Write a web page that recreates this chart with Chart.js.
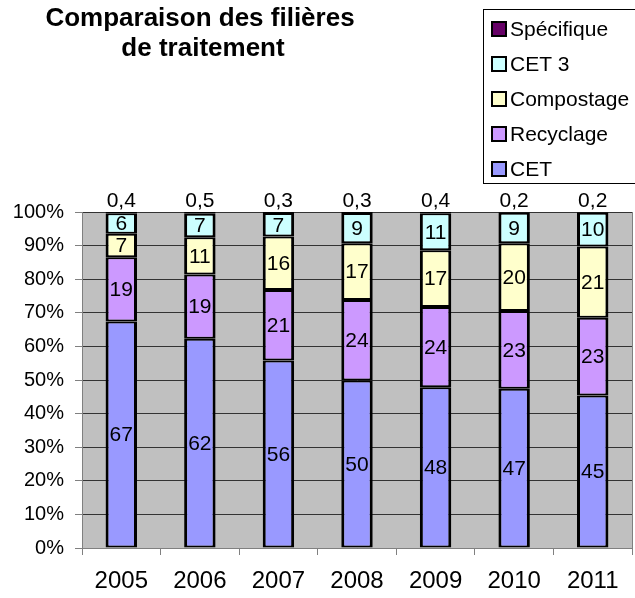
<!DOCTYPE html>
<html>
<head>
    <meta charset="utf-8">
    <title>Comparaison des filières de traitement</title>
    <script src="https://cdn.jsdelivr.net/npm/chart.js"></script>
    <style>
        body {
            margin: 0;
            background: #fff;
        }
        #wrap {
            position: relative;
            width: 635px;
            height: 598px;
        }
    </style>
</head>
<body>
    <div id="wrap"><canvas id="chart"></canvas></div>

    <script>
        // Data (values in %)
        const years = ['2005', '2006', '2007', '2008', '2009', '2010', '2011'];
        const cet = [67, 62, 56, 50, 48, 47, 45];
        const recyclage = [19, 19, 21, 24, 24, 23, 23];
        const compostage = [7, 11, 16, 17, 17, 20, 21];
        const cet3 = [6, 7, 7, 9, 11, 9, 10];
        const specifique = [0.4, 0.5, 0.3, 0.3, 0.4, 0.2, 0.2];
        const yTicks = [0, 10, 20, 30, 40, 50, 60, 70, 80, 90, 100];

        const series = [
            { label: 'CET', values: cet, color: '#9999ff' },
            { label: 'Recyclage', values: recyclage, color: '#cc99ff' },
            { label: 'Compostage', values: compostage, color: '#ffffcc' },
            { label: 'CET 3', values: cet3, color: '#ccffff' },
            { label: 'Spécifique', values: specifique, color: '#660066' }
        ];

        // 100% stacked: share of each year's total
        const totals = years.map((y, i) => series.reduce((s, d) => s + d.values[i], 0));

        const FONT = '"Liberation Sans", Arial, sans-serif';

        const plotBg = {
            id: 'plotBg',
            beforeDraw(chart) {
                const { ctx, chartArea: a } = chart;
                ctx.save();
                ctx.fillStyle = '#c0c0c0';
                ctx.fillRect(a.left, a.top, a.right - a.left, a.bottom - a.top);
                ctx.restore();
            },
            afterDraw(chart) {
                const { ctx, chartArea: a } = chart;
                ctx.save();
                ctx.strokeStyle = '#808080';
                ctx.lineWidth = 1;
                ctx.beginPath();
                ctx.moveTo(a.right + 0.5, a.top);
                ctx.lineTo(a.right + 0.5, a.bottom);
                ctx.stroke();
                ctx.restore();
            }
        };

        const valueLabels = {
            id: 'valueLabels',
            afterDatasetsDraw(chart) {
                const ctx = chart.ctx;
                ctx.save();
                ctx.font = '21px ' + FONT;
                ctx.fillStyle = '#000';
                ctx.textAlign = 'center';
                ctx.textBaseline = 'middle';
                const last = chart.data.datasets.length - 1;
                chart.data.datasets.forEach((ds, di) => {
                    const meta = chart.getDatasetMeta(di);
                    meta.data.forEach((bar, i) => {
                        const txt = String(ds.raw[i]).replace('.', ',');
                        const y = di === last ? bar.y - 11 : (bar.y + bar.base) / 2 + 1;
                        ctx.fillText(txt, bar.x, y);
                    });
                });
                ctx.restore();
            }
        };

        const titleAndLegend = {
            id: 'titleAndLegend',
            afterDraw(chart) {
                const ctx = chart.ctx;
                ctx.save();
                ctx.fillStyle = '#000';
                ctx.textAlign = 'center';
                ctx.textBaseline = 'middle';
                ctx.font = 'bold 26px ' + FONT;
                ctx.fillText('Comparaison des filières', 200, 19);
                ctx.fillText('de traitement', 203, 49);

                // legend box
                ctx.strokeStyle = '#000';
                ctx.lineWidth = 1;
                ctx.strokeRect(483.5, 9.5, 160, 174);
                ctx.font = '21px ' + FONT;
                ctx.textAlign = 'left';
                const items = chart.data.datasets.slice().reverse();
                items.forEach((ds, k) => {
                    const cy = 29 + k * 35;
                    ctx.fillStyle = ds.backgroundColor;
                    ctx.fillRect(492, cy - 7, 14, 14);
                    ctx.lineWidth = 2;
                    ctx.strokeRect(492, cy - 7, 14, 14);
                    ctx.fillStyle = '#000';
                    ctx.fillText(ds.label, 510, cy + 1);
                });
                ctx.restore();
            }
        };

        new Chart(document.getElementById('chart'), {
            type: 'bar',
            data: {
                labels: years,
                datasets: series.map(s => ({
                    label: s.label,
                    raw: s.values,
                    data: s.values.map((v, i) => v / totals[i] * 100),
                    backgroundColor: s.color,
                    borderColor: '#000',
                    borderWidth: { left: 3, right: 3, top: 2, bottom: 2 },
                    borderSkipped: false,
                    categoryPercentage: 1,
                    barPercentage: 0.4
                }))
            },
            options: {
                responsive: true,
                maintainAspectRatio: false,
                animation: false,
                layout: { padding: { top: 212, right: 3, left: 0, bottom: 0 } },
                plugins: {
                    legend: { display: false },
                    title: { display: false },
                    tooltip: { enabled: false }
                },
                scales: {
                    x: {
                        stacked: true,
                        grid: {
                            drawOnChartArea: false,
                            tickLength: 7,
                            color: '#808080',
                            offset: true
                        },
                        border: { color: '#808080' },
                        ticks: {
                            color: '#000',
                            font: { family: FONT, size: 24 },
                            padding: 12
                        },
                        afterFit(scale) { scale.height = 50; }
                    },
                    y: {
                        stacked: true,
                        min: 0,
                        max: 100,
                        afterBuildTicks(scale) {
                            scale.ticks = yTicks.map(v => ({ value: v }));
                        },
                        grid: {
                            color: '#333',
                            tickLength: 7,
                            tickColor: '#808080'
                        },
                        border: { color: '#808080' },
                        ticks: {
                            color: '#000',
                            font: { family: FONT, size: 20 },
                            padding: 11,
                            callback: v => v + '%'
                        },
                        afterFit(scale) { scale.width = 82; }
                    }
                }
            },
            plugins: [plotBg, valueLabels, titleAndLegend]
        });
    </script>
</body>
</html>
